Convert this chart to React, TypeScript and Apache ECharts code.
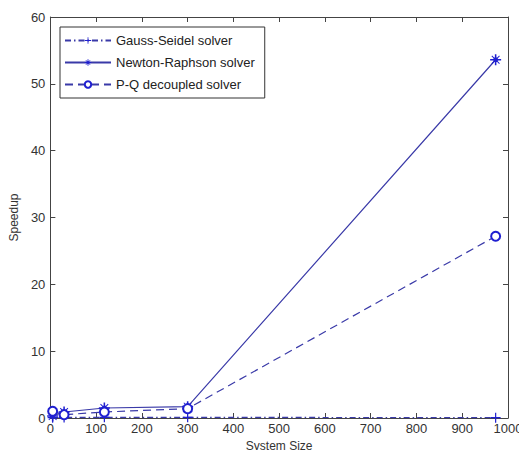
import React, { useEffect, useRef } from "react";
import * as echarts from "echarts";

const systemSizes = [5, 30, 118, 300, 973];
const gaussSeidel = [0.05, 0.08, 0.1, 0.1, 0.05];
const newtonRaphson = [0.3, 0.9, 1.5, 1.7, 53.6];
const pqDecoupled = [1.0, 0.5, 0.9, 1.4, 27.2];
const seriesNames = ["Gauss-Seidel solver", "Newton-Raphson solver", "P-Q decoupled solver"];

const LINE = "#3a3aa8";
const MARK = "#1f1fd0";
const PLUS = "path://M-0.6,-5h1.2v10h-1.2z M-5,-0.6h10v1.2h-10z";
const STAR =
  "path://M-0.7,-5h1.4v10h-1.4z M-5,-0.7h10v1.4h-10z M-3.2,-3.8L3.8,3.2L3.2,3.8L-3.8,-3.2z M3.2,-3.8L3.8,-3.2L-3.2,3.8L-3.8,3.2z M-2,-2h4v4h-4z";

export default function App() {
  const ref = useRef<HTMLDivElement>(null);
  useEffect(() => {
    const chart = echarts.init(ref.current!, null, { renderer: "svg" });
    const pair = (ys: number[]) => systemSizes.map((x, i) => [x, ys[i]]);
    const font = { fontFamily: "Liberation Sans", fontSize: 13, color: "#333" };
    const axisCommon = {
      type: "value" as const,
      axisLine: { show: true, onZero: false, lineStyle: { color: "#444", width: 1 } },
      axisTick: { show: true, inside: true, length: 5, lineStyle: { color: "#444" } },
      splitLine: { show: false },
    };
    chart.setOption({
      animation: false,
      backgroundColor: "#fff",
      grid: { left: 49, right: 19, top: 17, bottom: 40, containLabel: false },
      xAxis: [
        {
          ...axisCommon,
          min: 0,
          max: 1000,
          interval: 100,
          name: "System Size",
          nameLocation: "middle",
          nameGap: 22,
          nameTextStyle: { ...font, fontSize: 12 },
          axisLabel: { ...font, margin: 4, formatter: (v: number) => String(v) },
        },
        { ...axisCommon, min: 0, max: 1000, interval: 100, position: "top", axisLabel: { show: false } },
      ],
      yAxis: [
        {
          ...axisCommon,
          min: 0,
          max: 60,
          interval: 10,
          name: "Speedup",
          nameLocation: "middle",
          nameGap: 27,
          nameTextStyle: { ...font, fontSize: 12 },
          axisLabel: { ...font, margin: 5 },
        },
        { ...axisCommon, min: 0, max: 60, interval: 10, position: "right", axisLabel: { show: false } },
      ],
      legend: {
        orient: "vertical",
        left: 60,
        top: 27,
        itemWidth: 46,
        itemHeight: 8,
        itemGap: 9,
        padding: [7, 10, 7, 4],
        backgroundColor: "#fff",
        borderColor: "#333",
        borderWidth: 1,
        borderRadius: 0,
        textStyle: { ...font, color: "#222" },
        data: seriesNames,
      },
      series: [
        {
          name: seriesNames[0],
          type: "line",
          data: pair(gaussSeidel),
          symbol: PLUS,
          symbolSize: 10,
          lineStyle: { color: LINE, width: 1.2, type: [6, 3, 1.5, 3] },
          itemStyle: { color: MARK },
        },
        {
          name: seriesNames[1],
          type: "line",
          data: pair(newtonRaphson),
          symbol: STAR,
          symbolSize: 11,
          lineStyle: { color: LINE, width: 1.2, type: "solid" },
          itemStyle: { color: MARK },
        },
        {
          name: seriesNames[2],
          type: "line",
          data: pair(pqDecoupled),
          symbol: "emptyCircle",
          symbolSize: 9,
          lineStyle: { color: LINE, width: 1.2, type: [8, 5] },
          itemStyle: { color: MARK, borderColor: MARK, borderWidth: 1.2 },
        },
      ],
    });
    return () => chart.dispose();
  }, []);
  return <div ref={ref} style={{ width: 527, height: 458, margin: -8 }} />;
}
